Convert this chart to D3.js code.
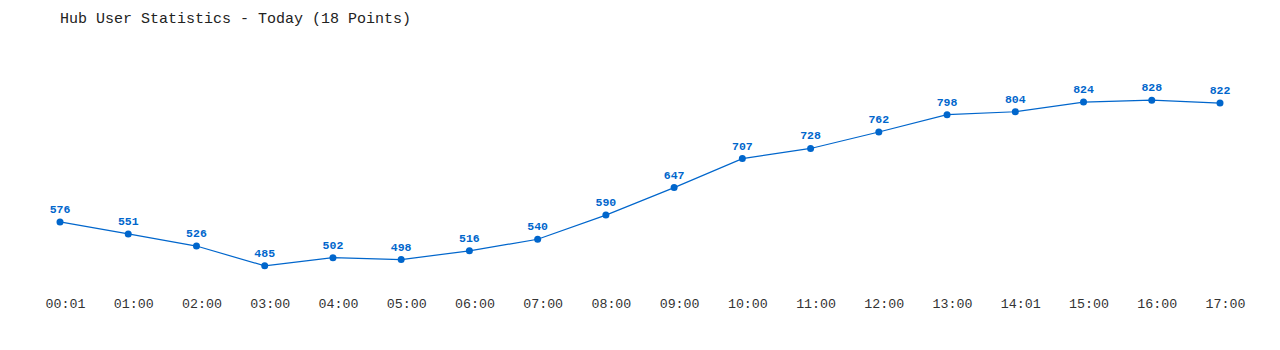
<!DOCTYPE html>
<html>
<head>
<meta charset="utf-8">
<script src="https://cdn.jsdelivr.net/npm/d3@7.9.0/dist/d3.min.js"></script>
<style>
  body { margin: 0; background: #fff; }
  svg text { font-family: "Liberation Mono", "DejaVu Sans Mono", monospace; }
</style>
</head>
<body>
<svg id="chart" width="1280" height="350"></svg>
<script>
const times = ['00:01','01:00','02:00','03:00','04:00','05:00','06:00','07:00','08:00',
               '09:00','10:00','11:00','12:00','13:00','14:01','15:00','16:00','17:00'];
const users = [576, 551, 526, 485, 502, 498, 516, 540, 590, 647, 707, 728, 762, 798, 804, 824, 828, 822];

const svg = d3.select('#chart');
const blue = '#0066cc';

// layout
const plotLeft = 60, plotRight = 1220, plotBottom = 290, plotTop = 76;

const x = d3.scalePoint().domain(times).range([plotLeft, plotRight]);
const [lo, hi] = d3.extent(users);
const pad = 50;
const y = d3.scaleLinear().domain([lo - pad, hi + pad]).range([plotBottom, plotTop]);

svg.append('text')
  .attr('x', 60).attr('y', 23)
  .attr('font-size', 15)
  .attr('fill', '#222')
  .text('Hub User Statistics - Today (18 Points)');

const xAxis = svg.append('g')
  .attr('transform', `translate(0,${plotBottom})`)
  .call(d3.axisBottom(x).tickSize(0).tickPadding(9));
xAxis.select('.domain').remove();
xAxis.selectAll('text')
  .attr('dx', 5)
  .attr('font-size', 13.3)
  .attr('fill', '#333')
  .style('font-family', '"Liberation Mono", "DejaVu Sans Mono", monospace');

const line = d3.line()
  .x((d, i) => x(times[i]))
  .y(d => y(d));

svg.append('path')
  .datum(users)
  .attr('d', line)
  .attr('fill', 'none')
  .attr('stroke', blue)
  .attr('stroke-width', 1.2);

svg.selectAll('circle')
  .data(users)
  .join('circle')
    .attr('cx', (d, i) => x(times[i]))
    .attr('cy', d => y(d))
    .attr('r', 3.5)
    .attr('fill', blue);

svg.selectAll('text.val')
  .data(users)
  .join('text')
    .attr('class', 'val')
    .attr('x', (d, i) => x(times[i]))
    .attr('y', d => y(d) - 9)
    .attr('text-anchor', 'middle')
    .attr('font-size', 11.5)
    .attr('font-weight', 'bold')
    .attr('fill', blue)
    .text(d => d);
</script>
</body>
</html>
